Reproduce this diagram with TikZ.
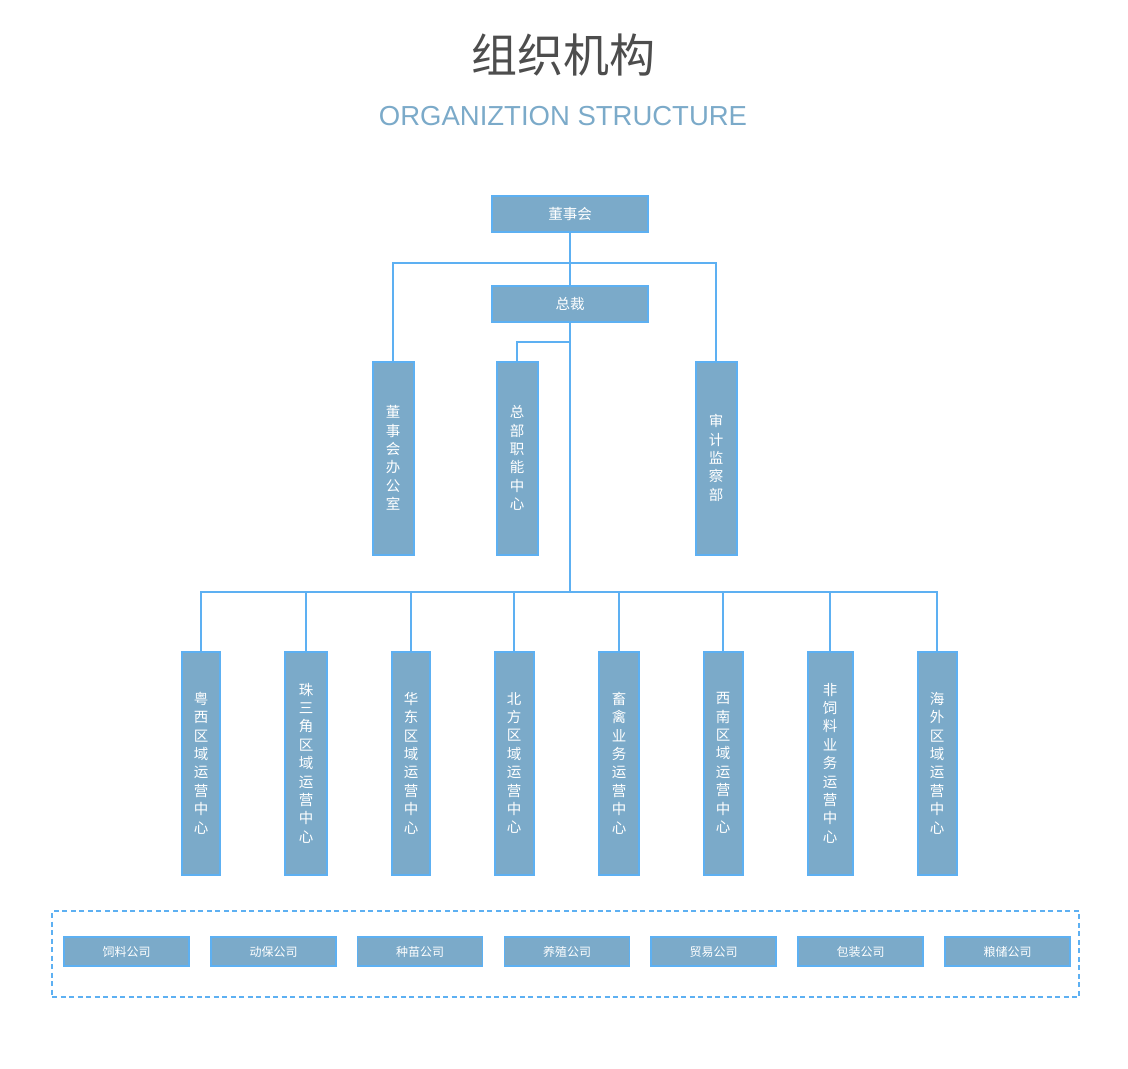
\documentclass[tikz,border=0pt]{standalone}
\usepackage{fontspec}
\newfontfamily\cjk{Noto Sans CJK SC}
\newfontfamily\latinsans{Liberation Sans}
\definecolor{boxfill}{HTML}{7BAAC9}
\definecolor{boxline}{HTML}{5DB0F2}
\definecolor{titlegray}{HTML}{4D4D4D}
\begin{document}
\begin{tikzpicture}[x=1pt,y=-1pt,
  orgbox/.style={draw=boxline,fill=boxfill,line width=2pt,inner sep=0pt,text=white,align=center},
  hbox/.style={orgbox,minimum width=156pt,minimum height=36pt,font=\cjk\fontsize{14.5}{16}\selectfont},
  vbox/.style={orgbox,minimum height=193pt,font=\cjk\fontsize{14.5}{18.4}\selectfont},
  wbox/.style={orgbox,minimum height=223pt,font=\cjk\fontsize{14.5}{18.4}\selectfont},
  cbox/.style={orgbox,line width=1.3pt,minimum width=125pt,minimum height=29pt,font=\cjk\fontsize{12}{14}\selectfont},
  conn/.style={draw=boxline,line width=2pt}]
\useasboundingbox (0,0) rectangle (1128,1069);
% titles
\node[font=\cjk\fontsize{46}{50}\selectfont,text=titlegray] (title) at (563,55) {组织机构};
\node[font=\latinsans\fontsize{27.5}{30}\selectfont,text=boxfill] (subtitle) at (563,116) {ORGANIZTION STRUCTURE};
% top boxes
\node[hbox] (dsh) at (570,214) {董事会};
\node[hbox] (zc) at (570,304) {总裁};
% middle boxes
\node[vbox,minimum width=41pt] (office) at (393,458) {董\\事\\会\\办\\公\\室};
\node[vbox,minimum width=41pt] (hq) at (517,458) {总\\部\\职\\能\\中\\心};
\node[vbox,minimum width=41pt] (audit) at (716,458) {审\\计\\监\\察\\部};
% bottom boxes
\node[wbox,minimum width=38pt] (b1) at (201,763) {粤\\西\\区\\域\\运\\营\\中\\心};
\node[wbox,minimum width=42pt] (b2) at (306,763) {珠\\三\\角\\区\\域\\运\\营\\中\\心};
\node[wbox,minimum width=38pt] (b3) at (411,763) {华\\东\\区\\域\\运\\营\\中\\心};
\node[wbox,minimum width=39pt] (b4) at (514,763) {北\\方\\区\\域\\运\\营\\中\\心};
\node[wbox,minimum width=40pt] (b5) at (619,763) {畜\\禽\\业\\务\\运\\营\\中\\心};
\node[wbox,minimum width=39pt] (b6) at (723,763) {西\\南\\区\\域\\运\\营\\中\\心};
\node[wbox,minimum width=45pt] (b7) at (830,763) {非\\饲\\料\\业\\务\\运\\营\\中\\心};
\node[wbox,minimum width=39pt] (b8) at (937,763) {海\\外\\区\\域\\运\\营\\中\\心};
% connectors
\coordinate (topbus) at (570,263);
\coordinate (hqbus) at (570,342);
\coordinate (bus) at (570,592);
\draw[conn] (dsh.south) -- (zc.north);
\draw[conn] (topbus) -| (office.north);
\draw[conn] (topbus) -| (audit.north);
\draw[conn] (zc.south) -- (bus);
\draw[conn] (hqbus) -| (hq.north);
\foreach \b in {b1,b2,b3,b4,b5,b6,b7,b8}{\draw[conn] (bus) -| (\b.north);}
% companies
\node[draw=boxline,line width=1.5pt,dash pattern=on 5pt off 3.5pt,minimum width=1027pt,minimum height=86pt,inner sep=0pt] (group) at (565.5,954) {};
\node[cbox] (c1) at (126.5,951.5) {饲料公司};
\node[cbox] (c2) at (273.5,951.5) {动保公司};
\node[cbox] (c3) at (420,951.5) {种苗公司};
\node[cbox] (c4) at (567,951.5) {养殖公司};
\node[cbox] (c5) at (713.5,951.5) {贸易公司};
\node[cbox] (c6) at (860.5,951.5) {包装公司};
\node[cbox] (c7) at (1007.5,951.5) {粮储公司};
\end{tikzpicture}
\end{document}
